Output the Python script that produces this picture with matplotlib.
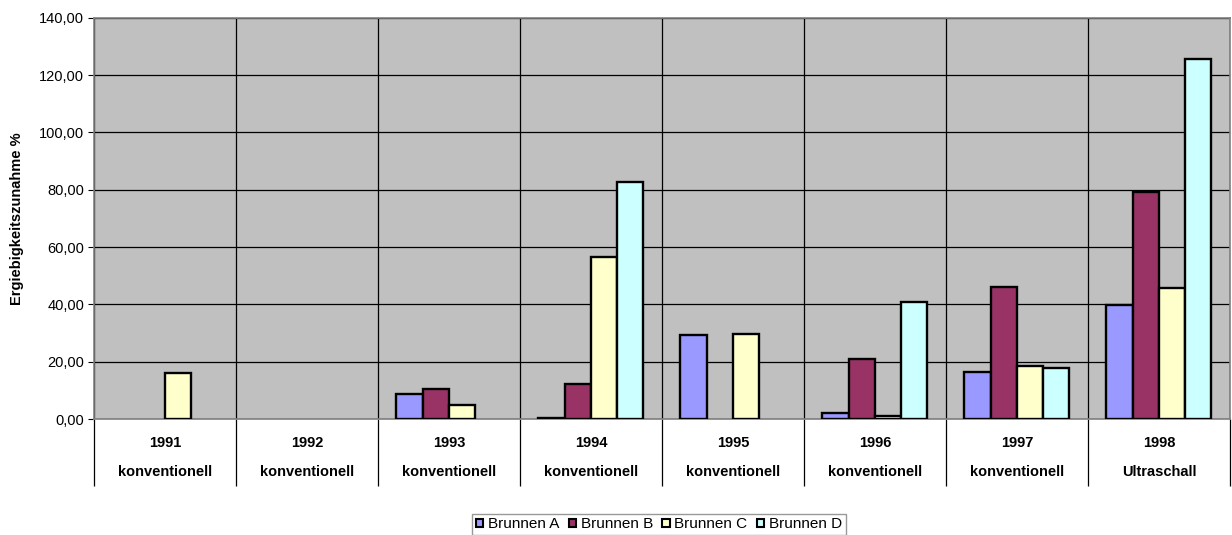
from __future__ import annotations

import matplotlib

matplotlib.use("Agg")
import matplotlib.pyplot as plt
import numpy as np
from matplotlib.patches import Patch
from matplotlib.ticker import FixedLocator, FuncFormatter

YEARS = ["1991", "1992", "1993", "1994", "1995", "1996", "1997", "1998"]
METHODS = [
    "konventionell",
    "konventionell",
    "konventionell",
    "konventionell",
    "konventionell",
    "konventionell",
    "konventionell",
    "Ultraschall",
]
SERIES = ["Brunnen A", "Brunnen B", "Brunnen C", "Brunnen D"]

brunnen_a = [0.0, 0.0, 8.9, 0.5, 29.3, 2.0, 16.5, 39.9]
brunnen_b = [0.0, 0.0, 10.4, 12.3, 0.0, 21.0, 46.2, 79.1]
brunnen_c = [16.1, 0.0, 4.9, 56.5, 29.6, 1.0, 18.4, 45.7]
brunnen_d = [0.0, 0.0, 0.0, 82.7, 0.0, 40.7, 17.7, 125.7]

COLORS = ["#9999FF", "#993366", "#FFFFCC", "#CCFFFF"]


def fmt_comma(value: float, _pos=None) -> str:
    return f"{value:.2f}".replace(".", ",")


def main() -> int:
    plt.rcParams["font.family"] = ["Liberation Sans", "DejaVu Sans"]
    fig = plt.figure(figsize=(12.32, 5.35), dpi=100)
    ax = fig.add_axes([0.0763, 0.2168, 0.9220, 0.7500])
    ax.set_facecolor("#C0C0C0")

    values = [brunnen_a, brunnen_b, brunnen_c, brunnen_d]
    x = np.arange(len(YEARS))
    width = 0.185
    for idx, series in enumerate(values):
        offset = (idx - 1.5) * width
        heights = [v if v > 0 else np.nan for v in series]
        ax.bar(
            x + offset,
            heights,
            width=width,
            color=COLORS[idx],
            edgecolor="black",
            linewidth=1.7,
            zorder=3,
        )

    ax.set_xlim(-0.5, len(YEARS) - 0.5)
    ax.set_ylim(0, 140)
    ax.set_yticks(np.arange(0, 141, 20))
    ax.yaxis.set_major_formatter(FuncFormatter(fmt_comma))
    ax.tick_params(axis="y", length=4, width=0.8, labelsize=10.5, pad=3)

    # category dividers as long ticks, labels on minor ticks at centers
    ax.xaxis.set_major_locator(FixedLocator(np.arange(-0.5, len(YEARS), 1.0)))
    ax.xaxis.set_minor_locator(FixedLocator(x))
    ax.set_xticklabels([])
    ax.set_xticklabels(
        [f"{year}\n\n{method}" for year, method in zip(YEARS, METHODS)],
        minor=True,
        fontsize=10.5,
        fontweight="bold",
        linespacing=1.07,
    )
    ax.tick_params(axis="x", which="major", length=48, width=0.9, color="black")
    ax.tick_params(axis="x", which="minor", length=0, pad=12)

    ax.grid(axis="y", color="black", linewidth=0.9, zorder=1)
    ax.grid(axis="x", which="major", color="black", linewidth=0.9, zorder=1)
    ax.set_axisbelow(True)
    for spine in ax.spines.values():
        spine.set_color("#808080")
        spine.set_linewidth(1.2)

    ax.set_ylabel("Ergiebigkeitszunahme %", fontsize=10.5, fontweight="bold", labelpad=11)

    handles = [Patch(facecolor=c, edgecolor="black", linewidth=1.5) for c in COLORS]
    fig.legend(
        handles,
        SERIES,
        loc="upper left",
        bbox_to_anchor=(472 / 1232, 0.040),
        ncol=4,
        fontsize=11,
        frameon=True,
        fancybox=False,
        edgecolor="#808080",
        handlelength=0.5,
        handleheight=0.5,
        handletextpad=0.3,
        columnspacing=0.6,
        borderpad=0.25,
        borderaxespad=0,
    )

    fig.savefig("out.png", dpi=100)
    plt.close(fig)
    return 0


if __name__ == "__main__":
    raise SystemExit(main())
